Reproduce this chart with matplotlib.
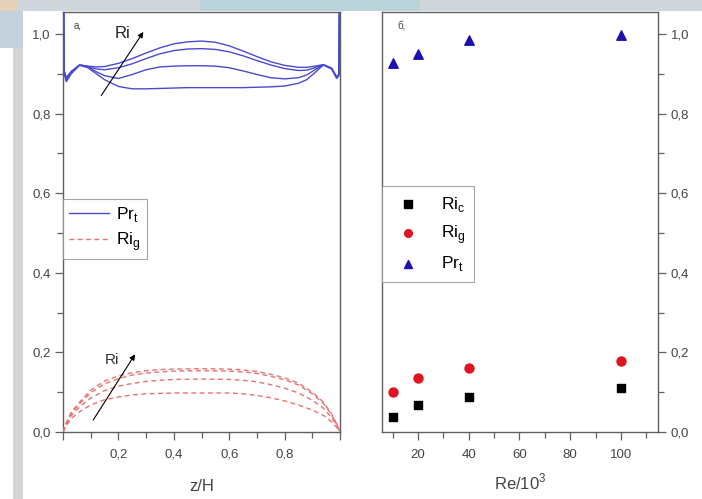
import matplotlib
matplotlib.use("Agg")
import matplotlib.pyplot as plt
from matplotlib.ticker import MultipleLocator, FuncFormatter
from matplotlib.patches import Rectangle
from matplotlib.lines import Line2D

plt.rcParams['font.family'] = ['Liberation Sans', 'DejaVu Sans']
plt.rcParams['mathtext.fontset'] = 'custom'
plt.rcParams['mathtext.rm'] = 'Liberation Sans'

# ---- panel a: profiles across the channel height ----
z_pr = [0, 0.004, 0.012, 0.03, 0.06, 0.09, 0.12, 0.15, 0.2, 0.25, 0.3, 0.35,
        0.4, 0.45, 0.5, 0.55, 0.6, 0.65, 0.7, 0.75, 0.8, 0.85, 0.88, 0.91,
        0.94, 0.97, 0.988, 0.996, 1.0]
pr_1 = [1.25, 0.900, 0.880, 0.900, 0.921, 0.915, 0.900, 0.885, 0.868, 0.862,
        0.862, 0.863, 0.864, 0.865, 0.865, 0.865, 0.865, 0.865, 0.866, 0.867,
        0.869, 0.876, 0.885, 0.903, 0.922, 0.912, 0.888, 0.895, 1.25]
pr_2 = [1.25, 0.905, 0.885, 0.903, 0.922, 0.917, 0.905, 0.895, 0.888, 0.898,
        0.910, 0.917, 0.919, 0.920, 0.920, 0.919, 0.915, 0.907, 0.898, 0.890,
        0.887, 0.890, 0.897, 0.910, 0.922, 0.912, 0.890, 0.897, 1.25]
pr_3 = [1.25, 0.907, 0.888, 0.905, 0.922, 0.918, 0.912, 0.910, 0.915, 0.925,
        0.938, 0.950, 0.958, 0.962, 0.963, 0.961, 0.955, 0.945, 0.933, 0.922,
        0.913, 0.908, 0.909, 0.915, 0.922, 0.913, 0.891, 0.898, 1.25]
pr_4 = [1.25, 0.908, 0.890, 0.906, 0.922, 0.919, 0.917, 0.918, 0.926, 0.938,
        0.952, 0.965, 0.975, 0.980, 0.982, 0.979, 0.970, 0.957, 0.943, 0.930,
        0.921, 0.916, 0.916, 0.919, 0.923, 0.914, 0.892, 0.899, 1.25]

z_ri = [0, 0.01, 0.03, 0.06, 0.1, 0.15, 0.2, 0.25, 0.3, 0.35, 0.4, 0.5, 0.6,
        0.65, 0.7, 0.75, 0.8, 0.85, 0.9, 0.94, 0.97, 0.99, 1.0]
ri_1 = [0, 0.014, 0.034, 0.051, 0.068, 0.081, 0.088, 0.093, 0.096, 0.097,
        0.098, 0.098, 0.098, 0.096, 0.092, 0.086, 0.078, 0.068, 0.055, 0.042,
        0.025, 0.010, 0]
ri_2 = [0, 0.017, 0.042, 0.063, 0.085, 0.104, 0.115, 0.122, 0.127, 0.130,
        0.132, 0.133, 0.132, 0.130, 0.126, 0.119, 0.110, 0.098, 0.080, 0.060,
        0.036, 0.014, 0]
ri_3 = [0, 0.019, 0.047, 0.071, 0.099, 0.121, 0.134, 0.143, 0.148, 0.151,
        0.153, 0.154, 0.153, 0.151, 0.147, 0.140, 0.131, 0.118, 0.096, 0.072,
        0.043, 0.017, 0]
ri_4 = [0, 0.020, 0.050, 0.075, 0.105, 0.128, 0.141, 0.149, 0.154, 0.157,
        0.158, 0.159, 0.158, 0.156, 0.152, 0.145, 0.136, 0.123, 0.100, 0.075,
        0.045, 0.018, 0]

# ---- panel b: averaged values against Reynolds number ----
re_k = [10, 20, 40, 100]
ri_c = [0.038, 0.068, 0.088, 0.111]
ri_g = [0.100, 0.136, 0.161, 0.179]
pr_t = [0.927, 0.950, 0.985, 0.998]

PR_COLOR = '#4a4ad0'
RI_COLOR = '#e87272'
SPINE = '#606060'
TXT = '#454545'

W, H = 702, 499
fig = plt.figure(figsize=(W / 100, H / 100), dpi=100, facecolor='white')

# slide background remnants
fig.patches.append(Rectangle((0, 1 - 11 / H), 1, 11 / H, transform=fig.transFigure,
                             facecolor='#cfd7dd', edgecolor='none', zorder=0))
fig.patches.append(Rectangle((200 / W, 1 - 11 / H), 220 / W, 11 / H, transform=fig.transFigure,
                             facecolor='#b9d3d9', edgecolor='none', zorder=0))
fig.patches.append(Rectangle((0, 1 - 11 / H), 18 / W, 11 / H, transform=fig.transFigure,
                             facecolor='#e6d2b8', edgecolor='none', zorder=0))
fig.patches.append(Rectangle((0, 1 - 48 / H), 23 / W, 37 / H, transform=fig.transFigure,
                             facecolor='#c3d2dc', edgecolor='none', zorder=0))
fig.patches.append(Rectangle((13 / W, 0), 10 / W, 1 - 48 / H, transform=fig.transFigure,
                             facecolor='#d4d4d2', edgecolor='none', zorder=0))

ax1 = fig.add_axes([63 / W, 1 - 432 / H, 277 / W, 420 / H])
ax2 = fig.add_axes([382 / W, 1 - 432 / H, 276 / W, 420 / H])

comma = FuncFormatter(lambda v, p: f"{v:.1f}".replace('.', ','))

for ax in (ax1, ax2):
    ax.set_ylim(0, 1.055)
    ax.yaxis.set_major_locator(MultipleLocator(0.2))
    ax.yaxis.set_minor_locator(MultipleLocator(0.1))
    ax.yaxis.set_major_formatter(comma)
    for s in ax.spines.values():
        s.set_color(SPINE)
        s.set_linewidth(1.0)
    ax.tick_params(which='both', direction='out', colors=SPINE, labelcolor=TXT,
                   labelsize=9.5, width=0.9)
    ax.tick_params(which='major', length=6, pad=3)
    ax.tick_params(which='minor', length=4)
    ax.tick_params(axis='x', which='major', pad=6)

# panel a
ax1.set_xlim(0, 1)
ax1.xaxis.set_major_locator(MultipleLocator(0.2))
ax1.xaxis.set_minor_locator(MultipleLocator(0.1))
ax1.xaxis.set_major_formatter(FuncFormatter(
    lambda v, p: '' if v < 0.05 or v > 0.95 else f"{v:.1f}".replace('.', ',')))
for prof in (pr_1, pr_2, pr_3, pr_4):
    ax1.plot(z_pr, prof, color=PR_COLOR, lw=1.0, clip_on=True, zorder=3)
for prof in (ri_1, ri_2, ri_3, ri_4):
    ax1.plot(z_ri, prof, color=RI_COLOR, lw=1.0, ls=(0, (3.5, 2.5)), zorder=3)

arrow = dict(arrowstyle='-|>', color='black', lw=0.8, mutation_scale=8,
             shrinkA=0, shrinkB=0)
ax1.annotate('', xy=(0.29, 1.005), xytext=(0.138, 0.845), arrowprops=arrow)
ax1.text(0.215, 1.0, 'Ri', fontsize=12, ha='center', va='center', color='#222222')
ax1.annotate('', xy=(0.26, 0.195), xytext=(0.109, 0.03), arrowprops=arrow)
ax1.text(0.175, 0.181, 'Ri', fontsize=11, ha='center', va='center', color='#333333')
ax1.text(0.04, 1.02, 'а,', fontsize=7, ha='left', va='center', color=TXT)
ax1.set_xlabel('z/H', fontsize=12, color=TXT, labelpad=13)

h1 = [Line2D([], [], color=PR_COLOR, lw=1.0),
      Line2D([], [], color=RI_COLOR, lw=1.0, ls=(0, (3.5, 2.5)))]
leg1 = ax1.legend(h1, [r'Pr$_\mathrm{t}$', r'Ri$_\mathrm{g}$'], loc='upper left',
                  bbox_to_anchor=(0.0, 0.555), fontsize=12.5, frameon=True,
                  fancybox=False, edgecolor='#909090', handlelength=2.3,
                  handletextpad=0.4, borderpad=0.35, labelspacing=0.35,
                  borderaxespad=0)
leg1.get_frame().set_linewidth(0.8)

# panel b
ax2.set_xlim(5.8, 114.6)
ax2.xaxis.set_major_locator(MultipleLocator(20))
ax2.xaxis.set_minor_locator(MultipleLocator(10))
ax2.xaxis.set_major_formatter(FuncFormatter(lambda v, p: f"{v:.0f}"))
ax2.yaxis.tick_right()
ax2.yaxis.set_label_position('right')
ax2.scatter(re_k, ri_c, marker='s', s=38, color='black', zorder=3, label=r'Ri$_\mathrm{c}$')
ax2.scatter(re_k, ri_g, marker='o', s=42, color='#e0141e', zorder=3, label=r'Ri$_\mathrm{g}$')
ax2.scatter(re_k, pr_t, marker='^', s=46, color='#1a10b4', zorder=3, label=r'Pr$_\mathrm{t}$')
ax2.text(12.0, 1.02, 'б,', fontsize=7, ha='left', va='center', color=TXT)
ax2.set_xlabel(r'Re/10$^3$', fontsize=12, color=TXT, labelpad=8)
leg2 = ax2.legend(loc='upper left', bbox_to_anchor=(0.0, 0.585), fontsize=12.5,
                  frameon=True, fancybox=False, edgecolor='#909090',
                  handletextpad=0.9, borderpad=0.5, labelspacing=0.5,
                  borderaxespad=0, markerscale=0.85, handlelength=2.0)
leg2.get_frame().set_linewidth(0.8)

fig.savefig('out.png', dpi=100, facecolor=fig.get_facecolor())
